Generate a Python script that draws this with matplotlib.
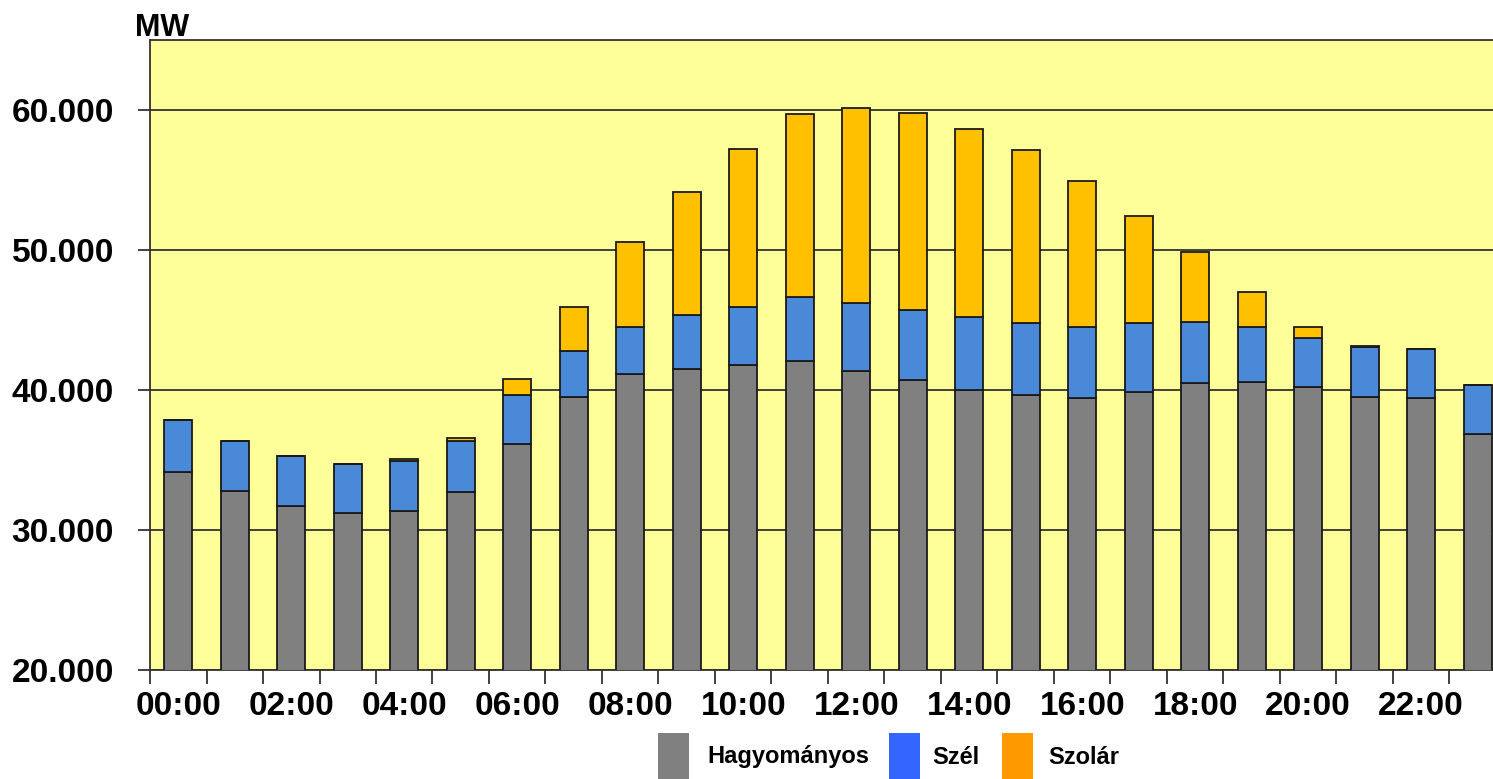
import numpy as np
import matplotlib.pyplot as plt
from matplotlib.patches import Rectangle

plt.rcParams['font.family'] = ['Liberation Sans', 'DejaVu Sans']
plt.rcParams['font.weight'] = 'bold'

hours = ['%02d:00' % h for h in range(24)]

# MW per hour
hagyomanyos = np.array([34170, 32760, 31710, 31240, 31360, 32740, 36140, 39520,
                        41140, 41520, 41760, 42100, 41380, 40710, 40000, 39640,
                        39400, 39860, 40480, 40570, 40240, 39520, 39400, 36860])
szel = np.array([3690, 3600, 3600, 3470, 3590, 3620, 3500, 3290,
                 3380, 3840, 4190, 4520, 4810, 5000, 5190, 5120,
                 5120, 4900, 4400, 3950, 3470, 3530, 3500, 3470])
szolar = np.array([0, 0, 0, 0, 120, 240, 1140, 3100,
                   6070, 8810, 11240, 13090, 13980, 14050, 13450, 12360,
                   10410, 7670, 5000, 2450, 810, 70, 0, 0])

yticks = [20000, 30000, 40000, 50000, 60000]
ytick_labels = ['20.000', '30.000', '40.000', '50.000', '60.000']

W, H = 1493, 779
fig = plt.figure(figsize=(W / 100, H / 100), dpi=100)
fig.patch.set_facecolor('white')

# the plot runs past the right edge of the picture, like in the original
ax = fig.add_axes([150 / W, 109 / H, 1356 / W, 630 / H])
ax.set_facecolor('#FFFF99')

x = np.arange(len(hours))
edge = dict(edgecolor='#1a1a1a', linewidth=1.3, width=0.5, zorder=3)
ax.bar(x, hagyomanyos, color='#808080', **edge)
ax.bar(x, szel, bottom=hagyomanyos, color='#4A88D8', **edge)
ax.bar(x, szolar, bottom=hagyomanyos + szel, color='#FFC000', **edge)

ax.set_xlim(-0.5, 23.5)
ax.set_ylim(20000, 65000)

ax.set_yticks(yticks)
ax.set_yticklabels(ytick_labels, fontsize=24, fontweight='bold')
ax.yaxis.grid(True, color='#333333', linewidth=1.3, zorder=1)
ax.set_axisbelow(True)

# ticks between the bars, labels under every second bar
ax.set_xticks(np.arange(-0.5, 24, 1))
ax.set_xticklabels([])
ax.set_xticks(x[::2], minor=True)
ax.set_xticklabels(hours[::2], minor=True, fontsize=24, fontweight='bold')
ax.tick_params(axis='x', which='major', length=10, width=1.3, color='#333333')
ax.tick_params(axis='x', which='minor', length=0, pad=15)
ax.tick_params(axis='y', length=9, width=1.3, color='#333333', pad=17)

for s in ax.spines.values():
    s.set_color('#333333')
    s.set_linewidth(1.3)

fig.text(135 / W, 1 - 36 / H, 'MW', fontsize=22, fontweight='bold', va='baseline')

# legend along the bottom
leg_items = [('Hagyományos', '#808080', 658, 707),
             ('Szél', '#3366FF', 889, 932),
             ('Szolár', '#FF9900', 1002, 1048)]
for name, col, px, tx in leg_items:
    fig.add_artist(Rectangle((px / W, 0), 31 / W, 46 / H, transform=fig.transFigure,
                             facecolor=col, edgecolor='none'))
    fig.text(tx / W, 1 - 757 / H, name, fontsize=17, fontweight='bold', va='center')

fig.savefig('out.png', dpi=100)
